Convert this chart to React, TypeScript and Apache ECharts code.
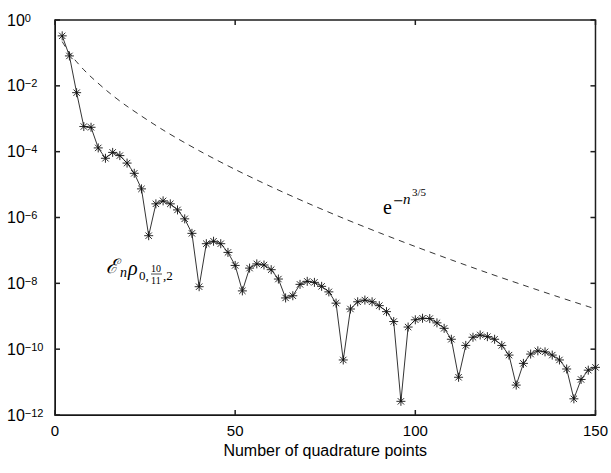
import React, { useEffect, useRef } from "react";
import * as echarts from "echarts";

// Number of quadrature points n
const quadraturePoints = [
  2, 4, 6, 8, 10, 12, 14, 16, 18, 20, 22, 24, 26, 28, 30, 32, 34, 36, 38, 40,
  42, 44, 46, 48, 50, 52, 54, 56, 58, 60, 62, 64, 66, 68, 70, 72, 74, 76, 78, 80,
  82, 84, 86, 88, 90, 92, 94, 96, 98, 100, 102, 104, 106, 108, 110, 112, 114, 116, 118, 120,
  122, 124, 126, 128, 130, 132, 134, 136, 138, 140, 142, 144, 146, 148, 150,
];

// Error E_n rho_{0,10/11,2}
const errorValues = [
  3.3e-1, 8.1e-2, 6.2e-3, 5.8e-4, 5.5e-4, 1.3e-4, 6.3e-5, 9.5e-5, 7.6e-5, 4.5e-5,
  2.2e-5, 7.4e-6, 2.8e-7, 2.6e-6, 3.2e-6, 2.6e-6, 1.7e-6, 9.1e-7, 3.3e-7, 7.9e-9,
  1.6e-7, 1.9e-7, 1.6e-7, 8.7e-8, 3.5e-8, 5.9e-9, 2.9e-8, 3.9e-8, 3.6e-8, 2.6e-8,
  1.35e-8, 3.6e-9, 4.2e-9, 9.3e-9, 1.15e-8, 1.07e-8, 8.1e-9, 5.5e-9, 2.5e-9, 4.7e-11,
  1.66e-9, 2.75e-9, 3.1e-9, 2.75e-9, 2.1e-9, 1.38e-9, 6.9e-10, 2.6e-12, 4.7e-10, 7.8e-10,
  8.7e-10, 8.5e-10, 6.3e-10, 4.3e-10, 2.0e-10, 1.4e-11, 1.3e-10, 2.3e-10, 2.7e-10, 2.4e-10,
  2.0e-10, 1.3e-10, 6.6e-11, 8.1e-12, 3.7e-11, 7.1e-11, 8.9e-11, 8.3e-11, 6.6e-11, 4.7e-11,
  2.5e-11, 3.1e-12, 1.2e-11, 2.3e-11, 2.8e-11,
];

// Dashed reference curve e^{-n^{3/5}}
const envelopeN = [2, 4, 6, 8, 10, 15, 20, 30, 40, 50, 60, 70, 80, 90, 100, 110, 120, 130, 140, 150];
const envelopeValues = [
  2.2e-1, 1.0e-1, 5.35e-2, 3.08e-2, 1.87e-2, 6.24e-3, 2.39e-3, 4.55e-4, 1.07e-4, 2.88e-5,
  8.6e-6, 2.77e-6, 9.5e-7, 3.45e-7, 1.31e-7, 5.15e-8, 2.09e-8, 8.8e-9, 3.78e-9, 1.67e-9,
];

const xTicks = [0, 50, 100, 150];
const yExponents = [0, -2, -4, -6, -8, -10, -12];

const xTitle = "Number of quadrature points";

const ASTERISK = "path://M0,-10L0,10M-10,0L10,0M-7.07,-7.07L7.07,7.07M-7.07,7.07L7.07,-7.07";

export default function App() {
  const ref = useRef<HTMLDivElement>(null);

  useEffect(() => {
    document.body.style.margin = "0";
    if (!ref.current) return;
    const chart = echarts.init(ref.current, undefined, { renderer: "svg" });

    const errData = quadraturePoints.map((n, i) => [n, Math.log10(errorValues[i])]);
    const envData = envelopeN.map((n, i) => [n, Math.log10(envelopeValues[i])]);

    const sans = "'Liberation Sans', Arial, Helvetica, sans-serif";
    const serif = "'Liberation Serif', 'DejaVu Serif', serif";

    const yMin = Math.min(...yExponents);
    const yMax = Math.max(...yExponents);
    const xMin = Math.min(...xTicks);
    const xMax = Math.max(...xTicks);

    const fmtExp = (v: number) => {
      const k = Math.round(v);
      const s = k < 0 ? "\u2212" + String(-k) : String(k);
      return `{b|10}{s|${s}}`;
    };

    const axisLineStyle = { color: "#000", width: 1 };

    const txt = (text: string, x: number, y: number, font: string) => ({
      type: "text",
      x,
      y,
      silent: true,
      style: {
        text,
        font,
        fill: "#000",
        align: "left",
        verticalAlign: "middle",
        textAlign: "left",
        textVerticalAlign: "middle",
      },
    });

    chart.setOption({
      animation: false,
      backgroundColor: "#fff",
      grid: { left: 55, right: 14, top: 20, bottom: 58, containLabel: false },
      xAxis: [
        {
          type: "value",
          min: xMin,
          max: xMax,
          interval: 50,
          name: xTitle,
          nameLocation: "middle",
          nameGap: 27,
          nameTextStyle: { fontSize: 16, color: "#000", fontFamily: sans },
          axisLine: { show: true, onZero: false, lineStyle: axisLineStyle },
          axisTick: { show: false },
          axisLabel: { show: true, fontSize: 15, color: "#000", fontFamily: sans, margin: 8 },
          splitLine: { show: false },
        },
      ],
      yAxis: [
        {
          type: "value",
          min: yMin,
          max: yMax,
          interval: 2,
          axisLine: { show: true, onZero: false, lineStyle: axisLineStyle },
          axisTick: { show: false },
          axisLabel: {
            show: true,
            margin: 48,
            align: "left",
            formatter: fmtExp,
            rich: {
              b: { fontSize: 16, fontFamily: sans, color: "#000", lineHeight: 16, verticalAlign: "bottom" },
              s: { fontSize: 11, fontFamily: sans, color: "#000", lineHeight: 11, verticalAlign: "top" },
            },
            lineHeight: 22,
          },
          splitLine: { show: false },
        },
      ],
      series: [
        {
          type: "line",
          data: envData,
          smooth: 0.3,
          showSymbol: false,
          symbol: "none",
          lineStyle: { color: "#000", width: 0.8, type: [6, 5] },
          silent: true,
          z: 2,
        },
        {
          type: "line",
          data: errData,
          symbol: ASTERISK,
          symbolSize: 9,
          showAllSymbol: true,
          lineStyle: { color: "#000", width: 0.8 },
          itemStyle: { color: "transparent", borderColor: "#111", borderWidth: 0.9 },
          silent: true,
          z: 3,
        },
      ],
    });

    // Box frame and inward ticks on all four sides, positioned through the axes' scales
    const px = (x: number, y: number) => chart.convertToPixel({ xAxisIndex: 0, yAxisIndex: 0 }, [x, y]) as number[];
    const [x0, yB] = px(xMin, yMin);
    const [x1, yT] = px(xMax, yMax);
    const L = 5;
    const mkStroke = () => ({ fill: "none", stroke: "#1e1e1e", lineWidth: 1.5 });
    const seg = (ax: number, ay: number, bx: number, by: number) => ({
      type: "polyline",
      silent: true,
      z: 100,
      shape: { points: [[ax, ay], [bx, by]] },
      style: mkStroke(),
    });
    const elems: any[] = [
      {
        type: "rect",
        silent: true,
        z: 100,
        shape: { x: x0, y: yT, width: x1 - x0, height: yB - yT },
        style: mkStroke(),
      },
    ];
    xTicks.forEach((t) => {
      const xp = px(t, yMin)[0];
      elems.push(seg(xp, yB, xp, yB - L));
      elems.push(seg(xp, yT, xp, yT + L));
    });
    yExponents.forEach((t) => {
      const yp = px(xMin, t)[1];
      elems.push(seg(x0, yp, x0 + L, yp));
      elems.push(seg(x1, yp, x1 - L, yp));
    });

    elems.push(
      // e^{-n^{3/5}}
      txt("e", 383, 207, `20px ${serif}`),
      txt("\u2212", 393, 200, `13px 'DejaVu Serif', serif`),
      txt("n", 403, 199, `italic 15px ${serif}`),
      txt("3/5", 412, 192, `11px ${serif}`),
      // E_n rho_{0,10/11,2}
      txt("\u2130", 106, 266, `italic 20px ${serif}`),
      txt("n", 120, 272, `italic 14px ${serif}`),
      txt("\u03c1", 128, 268, `italic 20px ${serif}`),
      txt("0,", 139, 275, `13px ${serif}`),
      txt("10", 151, 268, `10px ${serif}`),
      {
        type: "polyline",
        silent: true,
        shape: { points: [[151, 274], [162, 274]] },
        style: { fill: "none", stroke: "#1e1e1e", lineWidth: 0.8 },
      },
      txt("11", 151, 280, `10px ${serif}`),
      txt(",2", 163, 275, `13px ${serif}`)
    );

    chart.setOption({ graphic: { elements: elems } });

    return () => chart.dispose();
  }, []);

  return (
    <div
      ref={ref}
      style={{ position: "fixed", left: 0, top: 0, width: 611, height: 473, background: "#fff" }}
    />
  );
}
